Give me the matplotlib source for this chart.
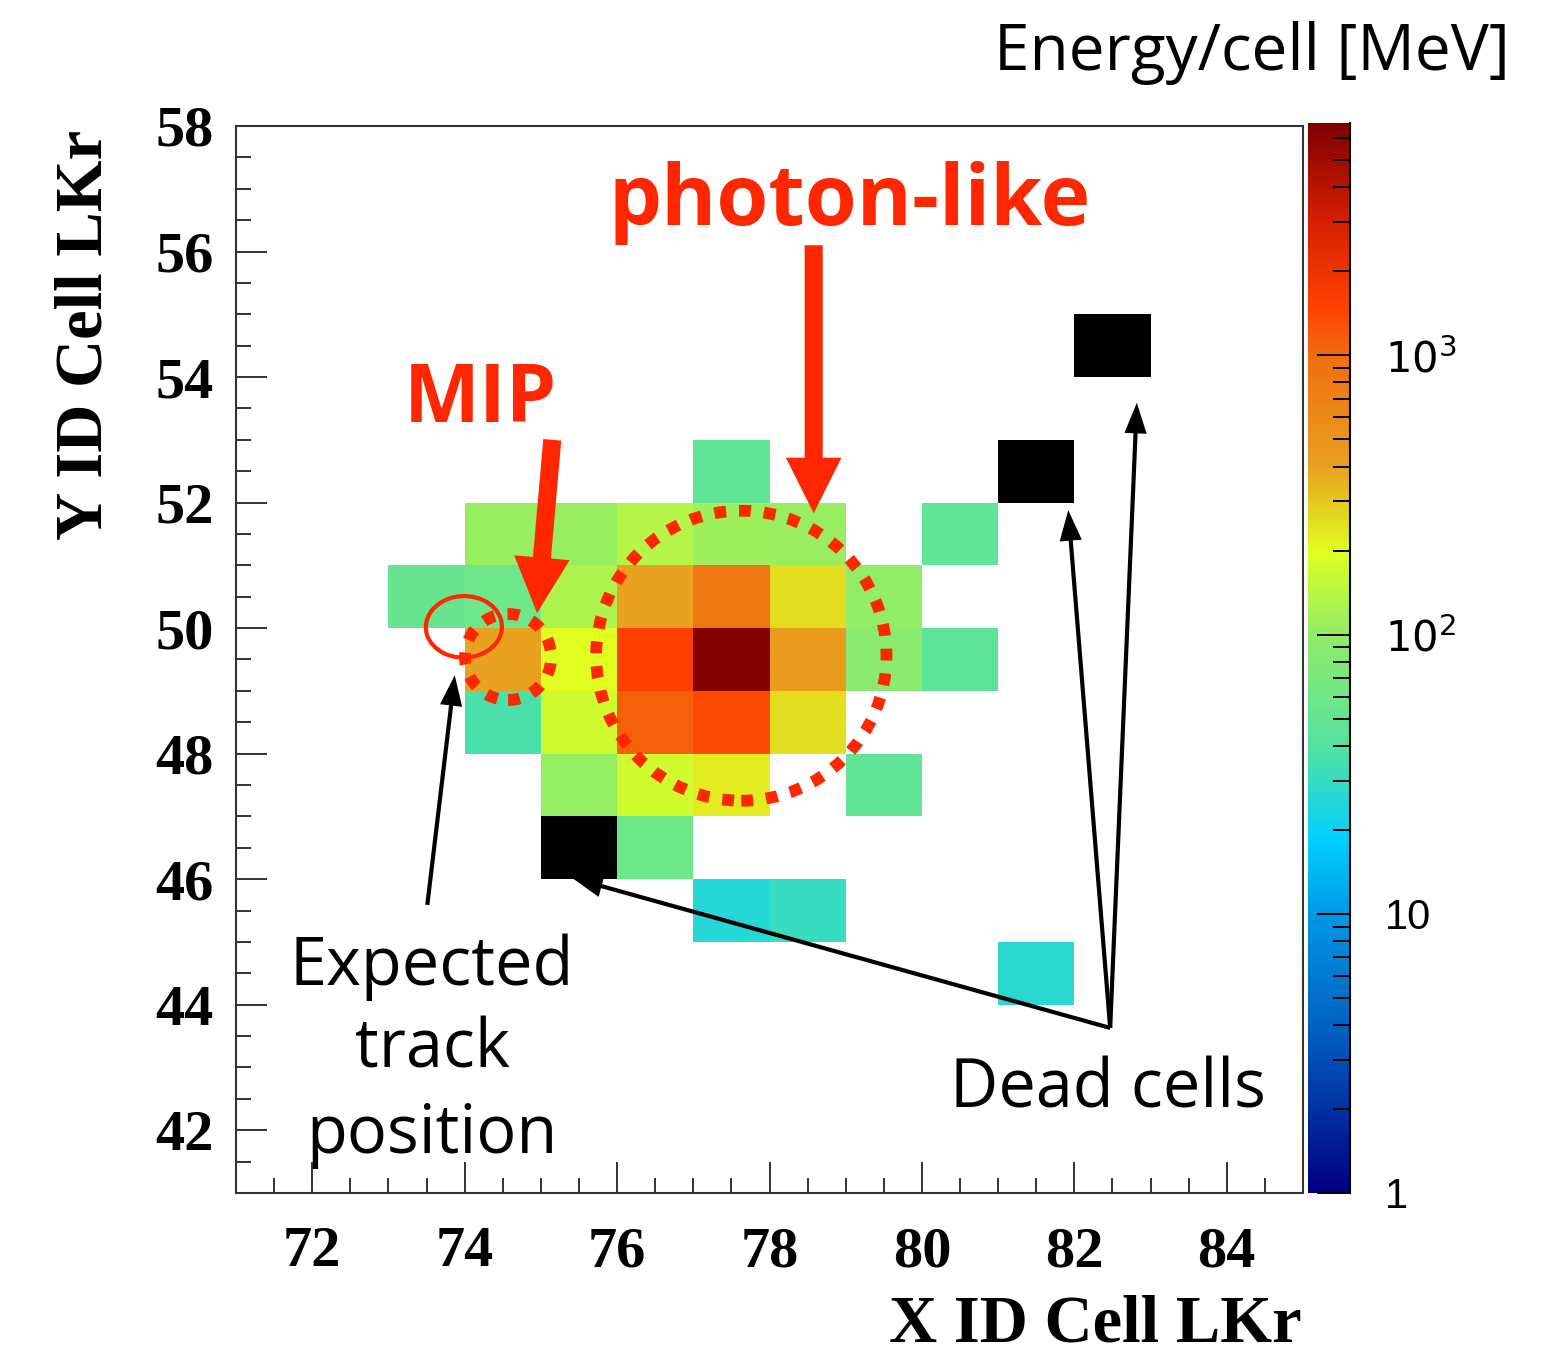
import numpy as np
import matplotlib.pyplot as plt
from matplotlib.colors import LinearSegmentedColormap, LogNorm, ListedColormap
from matplotlib.patches import Ellipse
from matplotlib.ticker import MultipleLocator, LogLocator, FixedLocator, NullFormatter

# cell energies [MeV] (cell lower-left corner)
cell_x = [77,
          74, 75, 76, 77, 78, 80,
          73, 74, 75, 76, 77, 78, 79,
          74, 75, 76, 77, 78, 79, 80,
          74, 75, 76, 77, 78,
          75, 76, 77, 79,
          76,
          77, 78,
          81]
cell_y = [52,
          51, 51, 51, 51, 51, 51,
          50, 50, 50, 50, 50, 50, 50,
          49, 49, 49, 49, 49, 49, 49,
          48, 48, 48, 48, 48,
          47, 47, 47, 47,
          46,
          45, 45,
          44]
cell_e = [48,
          108, 106, 135, 110, 108, 48,
          53, 60, 128, 400, 810, 250, 100,
          400, 200, 1500, 6500, 440, 90, 45,
          37, 174, 1100, 1380, 250,
          104, 174, 228, 48,
          60,
          26, 31,
          27]
dead_x = [75, 81, 82]
dead_y = [46, 52, 54]

x_edges = np.arange(71, 86)
y_edges = np.arange(41, 59)

W, H = 1547, 1357
def fx(px):
    return px / W
def fy(py):
    return 1 - py / H

# ROOT-like rainbow palette
stops = [(0.00, "#000080"), (0.15, "#0060c0"), (0.26, "#0098e4"), (0.33, "#00d0ff"),
         (0.415, "#52e2a2"), (0.52, "#90ec68"), (0.60, "#e0ff20"), (0.68, "#e8a020"),
         (0.78, "#f07010"), (0.83, "#ff4000"), (0.91, "#d42000"), (1.00, "#800000")]
cmap = LinearSegmentedColormap.from_list("rootrainbow", stops)
norm = LogNorm(vmin=1, vmax=6800)

energy, _, _ = np.histogram2d(np.array(cell_x) + 0.5, np.array(cell_y) + 0.5,
                              bins=[x_edges, y_edges], weights=cell_e)
dead, _, _ = np.histogram2d(np.array(dead_x) + 0.5, np.array(dead_y) + 0.5,
                            bins=[x_edges, y_edges])

fig = plt.figure(figsize=(W / 100, H / 100), dpi=100)
ax = fig.add_axes([fx(236), fy(1193), (1303 - 236) / W, (1193 - 126) / H])
mesh = ax.pcolormesh(x_edges, y_edges, np.ma.masked_equal(energy.T, 0), cmap=cmap, norm=norm)
ax.pcolormesh(x_edges, y_edges, np.ma.masked_equal(dead.T, 0), cmap=ListedColormap(["black"]))

ax.set_xlim(71, 85)
ax.set_ylim(41, 58)
ax.xaxis.set_major_locator(MultipleLocator(2))
ax.xaxis.set_minor_locator(MultipleLocator(0.5))
ax.yaxis.set_major_locator(MultipleLocator(2))
ax.yaxis.set_minor_locator(MultipleLocator(0.5))
ax.tick_params(which="both", direction="in", top=False, right=False, width=1.4, color="#333333")
ax.tick_params(which="major", length=22.5)
ax.tick_params(which="minor", length=11)
ax.tick_params(axis="x", pad=24)
ax.tick_params(axis="y", pad=16)
for lab in ax.get_xticklabels() + ax.get_yticklabels():
    lab.set_fontfamily("Liberation Serif")
    lab.set_fontweight("bold")
    lab.set_fontsize(42)
for sp in ax.spines.values():
    sp.set_linewidth(1.5)
    sp.set_color("#333333")

fig.text(fx(1302), fy(1356), "X ID Cell LKr", ha="right", va="bottom",
         fontsize=48, fontfamily="Liberation Serif", fontweight="bold")
fig.text(fx(85), fy(335), "Y ID Cell LKr", ha="center", va="center", rotation=90,
         fontsize=48, fontfamily="Liberation Serif", fontweight="bold")

# colour bar
cax = fig.add_axes([fx(1308), fy(1193), 42 / W, (1193 - 123) / H])
cbar = fig.colorbar(mesh, cax=cax)
cbar.outline.set_visible(False)
cax.axvline(1.0, color="black", lw=1.5, clip_on=False)
cax.yaxis.set_major_locator(FixedLocator([1, 10, 100, 1000]))
cax.yaxis.set_minor_locator(LogLocator(subs=range(2, 10)))
cax.yaxis.set_minor_formatter(NullFormatter())
cax.set_yticklabels(["1", "10", "$10^{2}$", "$10^{3}$"])
cax.tick_params(which="both", direction="in", right=True, color="black", width=1.4, pad=25)
cax.tick_params(which="major", length=24)
cax.tick_params(which="minor", length=12)
for lab in cax.get_yticklabels():
    lab.set_fontfamily("Liberation Sans")
    lab.set_fontsize(30)

fig.text(fx(1510), fy(70), "Energy/cell [MeV]", ha="right", va="baseline",
         fontsize=46, fontfamily="Open Sans")

red = "#ff2600"
fig.text(fx(850), fy(225), "photon-like", ha="center", va="baseline", color=red,
         fontsize=60.5, fontfamily="Open Sans", fontweight="bold")
fig.text(fx(480), fy(422), "MIP", ha="center", va="baseline", color=red,
         fontsize=58, fontfamily="Open Sans", fontweight="bold")

# red arrows
ax.annotate("", xy=(78.58, 51.83), xytext=(78.58, 56.1),
            arrowprops=dict(facecolor=red, edgecolor="none", width=13, headwidth=40, headlength=40, shrink=0))
ax.annotate("", xy=(74.95, 50.24), xytext=(75.15, 53.0),
            arrowprops=dict(facecolor=red, edgecolor="none", width=13, headwidth=40, headlength=40, shrink=0))

# dotted circles
ax.add_patch(Ellipse((77.63, 49.56), 3.81, 4.62, fill=False, edgecolor=red, lw=8.5, linestyle=(0, (1, 1.1))))
ax.add_patch(Ellipse((74.57, 49.54), 1.13, 1.37, fill=False, edgecolor=red, lw=8.5, linestyle=(0, (1, 1.1))))
ax.add_patch(Ellipse((73.99, 50.02), 1.0, 0.98, angle=15, fill=False, edgecolor=red, lw=3))

# black arrows
black_arrow = dict(facecolor="black", edgecolor="none", width=3, headwidth=16, headlength=22, shrink=0)
ax.annotate("", xy=(73.87, 49.25), xytext=(73.51, 45.59), arrowprops=black_arrow)
for tip in [(75.41, 46.02), (81.92, 51.88), (82.82, 53.59)]:
    ax.annotate("", xy=tip, xytext=(82.47, 43.63), arrowprops=black_arrow)

for txt, py in zip(["Expected", "track", "position"], [985, 1068, 1153]):
    fig.text(fx(432), fy(py), txt, ha="center", va="baseline", fontsize=48, fontfamily="Open Sans")
fig.text(fx(1108), fy(1108), "Dead cells", ha="center", va="baseline", fontsize=48, fontfamily="Open Sans")

fig.savefig("out.png", dpi=100)
